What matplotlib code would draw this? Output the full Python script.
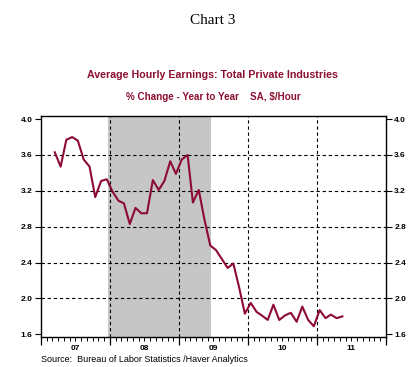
import numpy as np
import pandas as pd
import matplotlib
matplotlib.use("Agg")
import matplotlib.pyplot as plt  # noqa: E402
import matplotlib.dates as mdates  # noqa: E402

# monthly y/y % change, Mar 2007 .. May 2011
START = "2007-03"
AHE = [3.63, 3.47, 3.77, 3.80, 3.76, 3.55, 3.47, 3.13, 3.31, 3.33,   # 2007 Mar-Dec
       3.19, 3.09, 3.06, 2.83, 3.01, 2.95, 2.95, 3.32, 3.21, 3.31, 3.53, 3.39,  # 2008
       3.55, 3.60, 3.07, 3.21, 2.88, 2.59, 2.54, 2.44, 2.34, 2.39, 2.12, 1.83,  # 2009
       1.95, 1.85, 1.81, 1.76, 1.93, 1.76, 1.81, 1.84, 1.74, 1.91, 1.76, 1.69,  # 2010
       1.87, 1.78, 1.82, 1.78, 1.80]                                       # 2011 Jan-May
RECESSION = ("2007-12-20", "2009-06-20")
YEARS = [2007, 2008, 2009, 2010, 2011]
YTICKS = [1.6, 2.0, 2.4, 2.8, 3.2, 3.6, 4.0]

LINE = "#8c0a35"
RED_TXT = "#8c1030"

plt.rcParams["font.family"] = ["Liberation Sans", "DejaVu Sans"]

dates = pd.date_range(START, periods=len(AHE), freq="MS") + pd.Timedelta(days=14)
s = pd.Series(AHE, index=dates)

fig = plt.figure(figsize=(4.19, 3.67), dpi=100)
ax = fig.add_axes([41 / 419, 1 - 337 / 367, 345 / 419, 221 / 367])

ax.axvspan(pd.Timestamp(RECESSION[0]), pd.Timestamp(RECESSION[1]), color="#c6c6c6", lw=0, zorder=0)
ax.plot(s.index, s.values, color=LINE, lw=1.5, zorder=3)

ax.set_xlim(pd.Timestamp("2007-01-01"), pd.Timestamp("2012-01-01"))
ax.set_ylim(1.57, 4.035)

for y in YTICKS[1:-1]:
    ax.axhline(y, color="black", lw=0.8, ls=(0, (3, 2.5)), zorder=2)
for yr in YEARS[1:]:
    ax.axvline(pd.Timestamp(f"{yr}-01-01"), color="black", lw=0.8, ls=(0, (3, 2.5)), zorder=2)

ax.set_yticks(YTICKS)
ax.set_yticklabels([f"{v:.1f}" for v in YTICKS], fontsize=6, fontweight="bold")
ax.tick_params(axis="y", which="both", left=True, right=True, labelleft=True, labelright=True,
               direction="out", length=4, width=0.8, pad=2)

ax.set_xticks([pd.Timestamp(f"{y}-01-01") for y in YEARS + [2012]])
ax.set_xticklabels([])
ax.xaxis.set_minor_locator(mdates.MonthLocator())
ax.tick_params(axis="x", which="major", direction="out", length=6, width=0.9)
ax.tick_params(axis="x", which="minor", direction="out", length=3, width=0.7)
for yr in YEARS:
    ax.text(pd.Timestamp(f"{yr}-07-01"), -(348 - 337) / 221, f"{yr % 100:02d}",
            transform=ax.get_xaxis_transform(), ha="center", va="center", fontsize=6, fontweight="bold")

for sp in ax.spines.values():
    sp.set_linewidth(1.0)

fig.text(0.507, 0.945, "Chart 3", ha="center", va="center", fontsize=11, family="Liberation Serif")
fig.text(0.508, 0.796, "Average Hourly Earnings: Total Private Industries", ha="center", va="center",
         fontsize=7.7, fontweight="bold", color=RED_TXT)
fig.text(0.510, 0.736, "% Change - Year to Year    SA, $/Hour", ha="center", va="center",
         fontsize=7.1, fontweight="bold", color=RED_TXT)
fig.text(41 / 419, 1 - 359 / 367, "Source:  Bureau of Labor Statistics /Haver Analytics", ha="left",
         va="center", fontsize=6.5)

fig.savefig("out.png", dpi=100)
